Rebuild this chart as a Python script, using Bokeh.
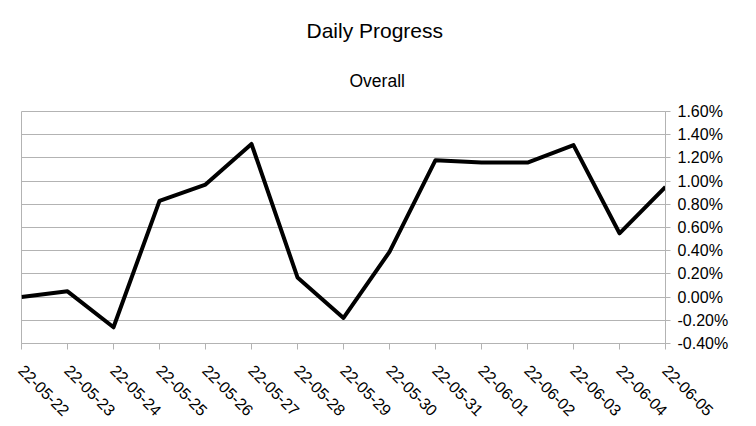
from bokeh.plotting import figure
from bokeh.models import LinearAxis, FixedTicker, NumeralTickFormatter, Range1d, Title, ColumnDataSource
from bokeh.embed import file_html
from bokeh.resources import INLINE

dates = ["22-05-22", "22-05-23", "22-05-24", "22-05-25", "22-05-26", "22-05-27", "22-05-28",
         "22-05-29", "22-05-30", "22-05-31", "22-06-01", "22-06-02", "22-06-03", "22-06-04", "22-06-05"]
progress = [0.0000, 0.0005, -0.0026, 0.0083, 0.0097, 0.0132, 0.0017,
            -0.0018, 0.0039, 0.0118, 0.0116, 0.0116, 0.0131, 0.0055, 0.0095]
y_ticks = [-0.004, -0.002, 0.0, 0.002, 0.004, 0.006, 0.008, 0.010, 0.012, 0.014, 0.016]
title_text = "Daily Progress"
subtitle_text = "Overall"

idx = list(range(len(dates)))
src = ColumnDataSource(dict(x=idx, y=progress))

FONT = "Liberation Sans"
GRID = "#b3b3b3"

p = figure(width=740, height=424, output_backend="svg", toolbar_location=None,
           x_range=Range1d(0, len(dates) - 1), y_range=Range1d(y_ticks[0], y_ticks[-1]),
           x_axis_location=None, y_axis_location=None,
           min_border_left=21, min_border_right=75, min_border_top=111, min_border_bottom=80)
p.outline_line_color = GRID
p.background_fill_color = "white"
p.border_fill_color = "white"

xaxis = LinearAxis(ticker=FixedTicker(ticks=idx),
                   major_label_overrides={i: d for i, d in enumerate(dates)})
xaxis.major_label_orientation = -0.785398
xaxis.axis_line_color = GRID
xaxis.major_tick_line_color = GRID
xaxis.major_tick_in = 0
xaxis.major_tick_out = 6
xaxis.minor_tick_line_color = None
xaxis.major_label_text_font = FONT
xaxis.major_label_text_font_size = "16px"
xaxis.major_label_text_color = "black"
xaxis.major_label_standoff = 18
p.add_layout(xaxis, "below")

yaxis = LinearAxis(ticker=FixedTicker(ticks=y_ticks), formatter=NumeralTickFormatter(format="0.00%"))
yaxis.axis_line_color = GRID
yaxis.major_tick_line_color = GRID
yaxis.major_tick_in = 0
yaxis.major_tick_out = 5
yaxis.minor_tick_line_color = None
yaxis.major_label_text_font = FONT
yaxis.major_label_text_font_size = "16px"
yaxis.major_label_text_color = "black"
yaxis.major_label_standoff = 7
p.add_layout(yaxis, "right")

p.xgrid.visible = False
p.ygrid.grid_line_color = GRID
p.ygrid.ticker = FixedTicker(ticks=y_ticks)

p.line("x", "y", source=src, line_color="black", line_width=4, line_join="round")

# subtitle first (nearest the frame), then the main title above it
p.add_layout(Title(text=subtitle_text, text_font=FONT, text_font_size="17.5px",
                   text_font_style="normal", align="left", offset=328, standoff=41,
                   text_color="black"), "above")
p.add_layout(Title(text=title_text, text_font=FONT, text_font_size="21px",
                   text_font_style="normal", align="left", offset=285, standoff=13,
                   text_color="black"), "above")

open("out.html", "w").write(file_html(p, INLINE))
